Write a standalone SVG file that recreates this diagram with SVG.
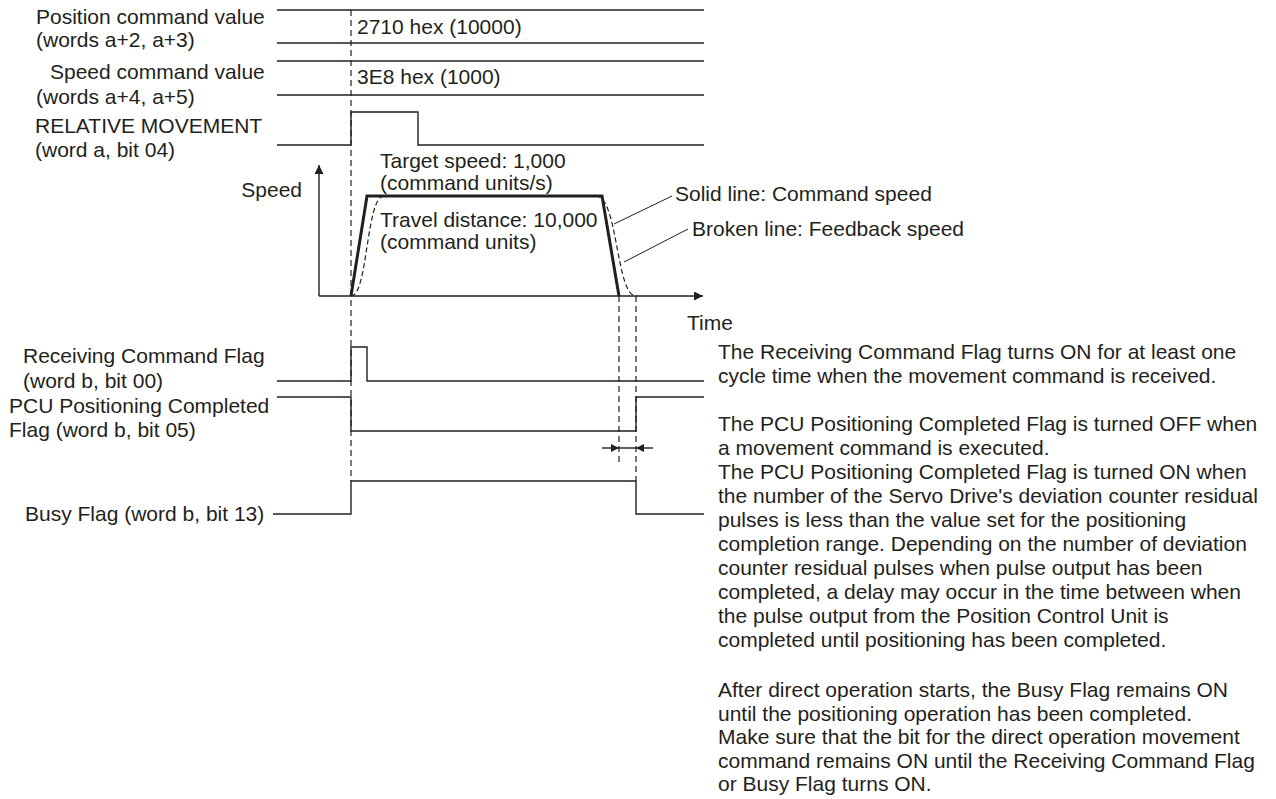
<svg xmlns="http://www.w3.org/2000/svg" width="1276" height="799" viewBox="0 0 1276 799">
<defs>
<style>
text{font-family:"Liberation Sans",Arial,Helvetica,sans-serif;font-size:21px;fill:#231f20}
.sig{fill:none;stroke:#231f20;stroke-width:1.4}
.dash{fill:none;stroke:#231f20;stroke-width:1.2;stroke-dasharray:6 4}
.cmd{fill:none;stroke:#231f20;stroke-width:3}
.fb{fill:none;stroke:#231f20;stroke-width:1.2;stroke-dasharray:5 3}
.lead{fill:none;stroke:#231f20;stroke-width:1}
</style>
<marker id="axArrow" viewBox="0 0 10 10" refX="10" refY="5" markerWidth="14" markerHeight="9" markerUnits="userSpaceOnUse" orient="auto"><path d="M0,0 L10,5 L0,10 Z" fill="#231f20"/></marker>
<marker id="dimArrow" viewBox="0 0 10 10" refX="10" refY="5" markerWidth="9" markerHeight="8" markerUnits="userSpaceOnUse" orient="auto"><path d="M0,0 L10,5 L0,10 Z" fill="#231f20"/></marker>
</defs>
<rect width="1276" height="799" fill="#ffffff"/>

<g id="labels">
<text x="36" y="24">Position command value</text>
<text x="36" y="47">(words a+2, a+3)</text>
<text x="50" y="79">Speed command value</text>
<text x="36" y="104">(words a+4, a+5)</text>
<text x="35" y="133">RELATIVE MOVEMENT</text>
<text x="35" y="157">(word a, bit 04)</text>
<text x="302" y="197" text-anchor="end">Speed</text>
<text x="23" y="363">Receiving Command Flag</text>
<text x="23" y="388">(word b, bit 00)</text>
<text x="9" y="413">PCU Positioning Completed</text>
<text x="9" y="437">Flag (word b, bit 05)</text>
<text x="25" y="521">Busy Flag (word b, bit 13)</text>
</g>

<g id="position-value">
<path class="sig" d="M277,10 H704 M277,43 H704"/>
<text x="357" y="34">2710 hex (10000)</text>
</g>

<g id="speed-value">
<path class="sig" d="M277,61 H704 M277,95 H704"/>
<text x="357" y="84">3E8 hex (1000)</text>
</g>

<g id="relative-movement">
<path class="sig" d="M277,145 H351 V112 H418 V145 H704"/>
</g>

<g id="speed-graph">
<line class="sig" x1="319" y1="296" x2="319" y2="165" marker-end="url(#axArrow)"/>
<line class="sig" x1="319" y1="296" x2="703" y2="296" marker-end="url(#axArrow)"/>
<path class="cmd" d="M351,296 L367,196 L602,196 L619,296"/>
<path class="fb" d="M351,296 C368,296 366,196 384,196 M596,196 C618,196 616,296 636,296"/>
<text x="380" y="168">Target speed: 1,000</text>
<text x="380" y="190">(command units/s)</text>
<text x="380" y="227">Travel distance: 10,000</text>
<text x="380" y="249">(command units)</text>
<text x="687" y="330">Time</text>
</g>

<g id="legend">
<text x="675" y="201">Solid line: Command speed</text>
<text x="692" y="236">Broken line: Feedback speed</text>
</g>

<g id="receiving-flag">
<path class="sig" d="M277,381 H351 V347 H367 V381 H704"/>
</g>

<g id="pcu-flag">
<path class="sig" d="M277,397 H351 V431 H636 V397 H704"/>
</g>

<g id="busy-flag">
<path class="sig" d="M273,514 H351 V481 H636 V514 H704"/>
</g>

<g id="notes">
<text x="718" y="359">The Receiving Command Flag turns ON for at least one</text>
<text x="718" y="383">cycle time when the movement command is received.</text>
<text x="718" y="431">The PCU Positioning Completed Flag is turned OFF when</text>
<text x="718" y="455">a movement command is executed.</text>
<text x="718" y="479">The PCU Positioning Completed Flag is turned ON when</text>
<text x="718" y="503">the number of the Servo Drive's deviation counter residual</text>
<text x="718" y="527">pulses is less than the value set for the positioning</text>
<text x="718" y="551">completion range. Depending on the number of deviation</text>
<text x="718" y="575">counter residual pulses when pulse output has been</text>
<text x="718" y="599">completed, a delay may occur in the time between when</text>
<text x="718" y="623">the pulse output from the Position Control Unit is</text>
<text x="718" y="647">completed until positioning has been completed.</text>
<text x="718" y="697">After direct operation starts, the Busy Flag remains ON</text>
<text x="718" y="720.5">until the positioning operation has been completed.</text>
<text x="718" y="744">Make sure that the bit for the direct operation movement</text>
<text x="718" y="767.5">command remains ON until the Receiving Command Flag</text>
<text x="718" y="791">or Busy Flag turns ON.</text>
</g>

<g id="connectors">
<line class="dash" x1="351" y1="10" x2="351" y2="481"/>
<line class="dash" x1="619" y1="296" x2="619" y2="462"/>
<line class="dash" x1="636" y1="296" x2="636" y2="481"/>
<line class="lead" x1="614" y1="224" x2="672" y2="196"/>
<line class="lead" x1="624" y1="262" x2="688" y2="229"/>
<line class="sig" x1="602" y1="448" x2="619" y2="448" marker-end="url(#dimArrow)"/>
<line class="sig" x1="653" y1="448" x2="636" y2="448" marker-end="url(#dimArrow)"/>
<line class="sig" x1="619" y1="448" x2="636" y2="448"/>
</g>
</svg>
